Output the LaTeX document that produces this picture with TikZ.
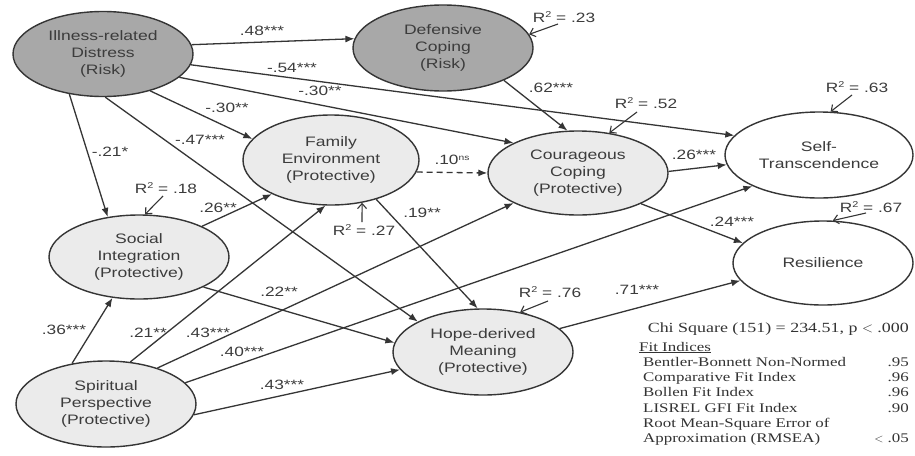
\documentclass[tikz,border=0pt]{standalone}
\usepackage{fontspec}
\setmainfont{Liberation Serif}[FakeStretch=1.28]
\newfontfamily\arialx{Liberation Sans}[FakeStretch=1.28]
\usetikzlibrary{shapes.geometric,arrows.meta}
\definecolor{riskfill}{HTML}{A8A8A8}
\definecolor{protfill}{HTML}{EBEBEB}
\definecolor{txtgray}{HTML}{3C3C3C}
\definecolor{linegray}{HTML}{353535}
\newcommand\Rsq{R\raisebox{5pt}{\fontsize{8.5}{9}\selectfont 2}}
\newcommand\nsup{\raisebox{4pt}{\fontsize{8}{8}\selectfont ns}}
\tikzset{
  var/.style={ellipse, draw=linegray, line width=1.4pt, inner sep=0pt, align=center,
    font=\arialx\fontsize{13.7}{17}\selectfont, text=txtgray},
  risk/.style={var, fill=riskfill},
  prot/.style={var, fill=protfill},
  outc/.style={var, fill=white},
  pathline/.style={draw=linegray, line width=1.3pt, -{Latex[length=9pt,width=7pt]}},
  coef/.style={font=\arialx\fontsize{13.5}{15}\selectfont, text=txtgray, inner sep=0pt},
  rsqarrow/.style={draw=linegray, line width=1.1pt, -{Straight Barb[length=5pt,width=9pt]}},
  fit/.style={font=\fontsize{13.2}{15}\selectfont, text=black!80, inner sep=0pt},
}
\begin{document}
\begin{tikzpicture}[x=1pt,y=-1pt]
\useasboundingbox[fill=white] (0,0) rectangle (915,455);

% variables
\node[risk, minimum width=180pt, minimum height=85pt] (D)  at (103,54)  {Illness-related\\Distress\\(Risk)};
\node[risk, minimum width=180pt, minimum height=86pt] (DC) at (443,48)  {Defensive\\Coping\\(Risk)};
\node[prot, minimum width=176pt, minimum height=90pt] (FE) at (331,160) {Family\\Environment\\(Protective)};
\node[prot, minimum width=180pt, minimum height=84pt] (CC) at (578,173) {Courageous\\Coping\\(Protective)};
\node[outc, minimum width=188pt, minimum height=86pt] (ST) at (819,155) {Self-\\Transcendence};
\node[outc, minimum width=180pt, minimum height=84pt] (RE) at (823,263) {Resilience};
\node[prot, minimum width=180pt, minimum height=84pt] (SI) at (139,257) {Social\\Integration\\(Protective)};
\node[prot, minimum width=180pt, minimum height=86pt] (SP) at (106,404) {Spiritual\\Perspective\\(Protective)};
\node[prot, minimum width=180pt, minimum height=86pt] (HM) at (483,352) {Hope-derived\\Meaning\\(Protective)};

% paths
\draw[pathline] (D.6) -- (DC.174);
\draw[pathline] (D.-7) -- (ST.167);
\draw[pathline] (D.-17) -- (CC.155);
\draw[pathline] (D.-38) -- (FE.165);
\draw[pathline] (D.-87) -- (HM.155);
\draw[pathline] (D.230) -- (SI.128);
\draw[pathline] (DC.-28) -- (CC.104);
\draw[pathline, dash pattern=on 6pt off 4pt] (FE.-8) -- (CC.180);
\draw[pathline] (FE.-41) -- (HM.97);
\draw[pathline] (CC.1) -- (ST.186);
\draw[pathline] (CC.-26) -- (RE.166);
\draw[pathline] (SI.26) -- (FE.210);
\draw[pathline] (SI.-25) -- (HM.174);
\draw[pathline] (SP.130) -- (SI.237);
\draw[pathline] (SP.60) -- (FE.263);
\draw[pathline] (SP.35) -- (CC.205);
\draw[pathline] (SP.15) -- (ST.205);
\draw[pathline] (SP.-7) -- (HM.192);
\draw[pathline] (HM.17) -- (RE.192);

% coefficients
\node[coef] (c1)  at (262,31)  {.48***};
\node[coef] (c2)  at (292,68)  {-.54***};
\node[coef] (c3)  at (320,91)  {-.30**};
\node[coef] (c4)  at (227,108) {-.30**};
\node[coef] (c5)  at (200,140) {-.47***};
\node[coef] (c6)  at (110,152) {-.21*};
\node[coef] (c7)  at (551,88)  {.62***};
\node[coef] (c8)  at (452,160) {.10\nsup};
\node[coef] (c9)  at (422,213) {.19**};
\node[coef] (c10) at (694,155) {.26***};
\node[coef] (c11) at (732,222) {.24***};
\node[coef] (c12) at (218,208) {.26**};
\node[coef] (c13) at (279,292) {.22**};
\node[coef] (c14) at (64,330)  {.36***};
\node[coef] (c15) at (148,333) {.21**};
\node[coef] (c16) at (208,333) {.43***};
\node[coef] (c17) at (242,352) {.40***};
\node[coef] (c18) at (282,385) {.43***};
\node[coef] (c19) at (637,290) {.71***};

% R squared
\node[coef] (r1) at (564,17)  {\Rsq\ = .23};
\node[coef] (r2) at (646,103) {\Rsq\ = .52};
\node[coef] (r3) at (857,87)  {\Rsq\ = .63};
\node[coef] (r4) at (166,188) {\Rsq\ = .18};
\node[coef] (r5) at (364,230) {\Rsq\ = .27};
\node[coef] (r6) at (871,207) {\Rsq\ = .67};
\node[coef] (r7) at (550,292) {\Rsq\ = .76};
\coordinate (r1s) at (558,24);
\coordinate (r2s) at (637,112);
\coordinate (r3s) at (852,95);
\coordinate (r4s) at (163,196);
\coordinate (r5s) at (362,222);
\coordinate (r6s) at (866,213);
\coordinate (r7s) at (548,301);
\draw[rsqarrow] (r1s) -- (DC.9);
\draw[rsqarrow] (r2s) -- (CC.52);
\draw[rsqarrow] (r3s) -- (ST.75);
\draw[rsqarrow] (r4s) -- (SI.82);
\draw[rsqarrow] (r5s) -- (FE.-54);
\draw[rsqarrow] (r6s) -- (RE.77);
\draw[rsqarrow] (r7s) -- (HM.47);

% fit statistics
\node[fit, anchor=base east, font=\fontsize{14}{15}\selectfont] (chi) at (909,332) {Chi Square (151) = 234.51, p $<$ .000};
\node[fit, anchor=base west] (fh)  at (639,351) {\underline{Fit Indices}};
\node[fit, anchor=base west] (f1)  at (643,366) {Bentler-Bonnett Non-Normed};
\node[fit, anchor=base west] (f2)  at (643,381) {Comparative Fit Index};
\node[fit, anchor=base west] (f3)  at (643,396) {Bollen Fit Index};
\node[fit, anchor=base west] (f4)  at (643,412) {LISREL GFI Fit Index};
\node[fit, anchor=base west] (f5)  at (643,427) {Root Mean-Square Error of};
\node[fit, anchor=base west] (f6)  at (643,442) {Approximation (RMSEA)};
\node[fit, anchor=base east] (v1)  at (909,366) {.95};
\node[fit, anchor=base east] (v2)  at (909,381) {.96};
\node[fit, anchor=base east] (v3)  at (909,396) {.96};
\node[fit, anchor=base east] (v4)  at (909,412) {.90};
\node[fit, anchor=base east] (v6)  at (909,442) {.05};
\node[fit, anchor=base] (lt) at (879,442) {$<$};
\end{tikzpicture}
\end{document}
